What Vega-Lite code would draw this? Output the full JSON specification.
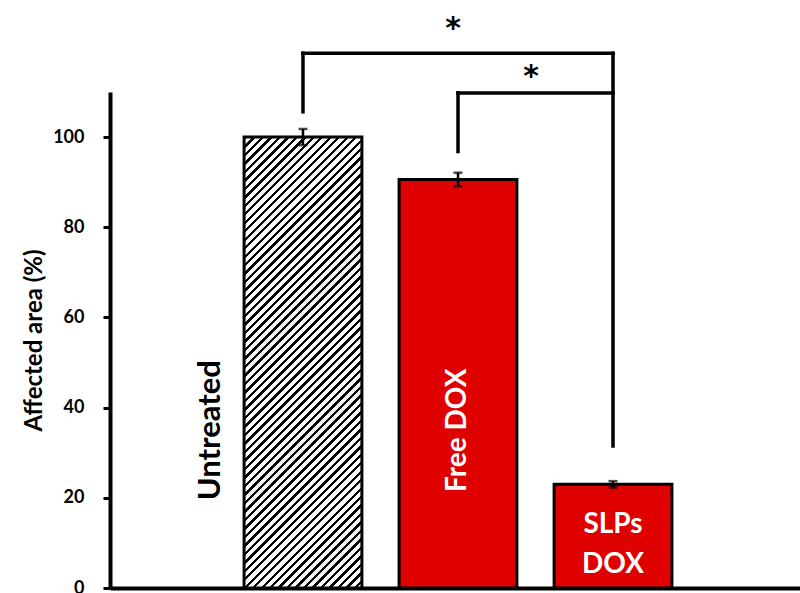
{
  "$schema": "https://vega.github.io/schema/vega-lite/v6.json",
  "width": 696,
  "height": 496,
  "autosize": "none",
  "padding": {"left": 110, "top": 92, "right": 0, "bottom": 5},
  "background": "white",
  "config": {"view": {"stroke": null}, "font": "Lato"},
  "datasets": {
    "bars": [
      {"group": "Untreated", "mean": 100, "lo": 98.2, "hi": 101.8},
      {"group": "Free DOX", "mean": 90.6, "lo": 89.1, "hi": 92.1},
      {"group": "SLPs DOX", "mean": 23, "lo": 22.3, "hi": 23.7}
    ],
    "legs": [
      {"group": "Untreated", "y": 105.6, "y2": 118.6},
      {"group": "Free DOX", "y": 96.8, "y2": 109.8},
      {"group": "SLPs DOX", "y": 31.5, "y2": 118.6}
    ],
    "spans": [
      {"from": "Untreated", "to": "SLPs DOX", "y": 118.6},
      {"from": "Free DOX", "to": "SLPs DOX", "y": 109.8}
    ],
    "one": [{}]
  },
  "encoding": {
    "x": {
      "field": "group",
      "type": "nominal",
      "scale": {"domain": ["Untreated", "Free DOX", "SLPs DOX"], "paddingInner": 0.24, "paddingOuter": 0.865},
      "axis": {"title": null, "labels": false, "ticks": false, "domainWidth": 4, "domainColor": "black"}
    }
  },
  "layer": [
    {
      "data": {"name": "bars"},
      "transform": [{"filter": "datum.group === 'Untreated'"}],
      "mark": {
        "type": "bar",
        "stroke": "black",
        "strokeWidth": 3,
        "fill": {
          "gradient": "linear", "x1": 0, "y1": 0, "x2": 0.3085, "y2": 1.1807,
          "stops": [
            {"offset":0,"color":"#000"},{"offset":0.006,"color":"#000"},{"offset":0.006,"color":"#fff"},{"offset":0.0149,"color":"#fff"},
            {"offset":0.0149,"color":"#000"},{"offset":0.0209,"color":"#000"},{"offset":0.0209,"color":"#fff"},{"offset":0.0299,"color":"#fff"},
            {"offset":0.0299,"color":"#000"},{"offset":0.0359,"color":"#000"},{"offset":0.0359,"color":"#fff"},{"offset":0.0448,"color":"#fff"},
            {"offset":0.0448,"color":"#000"},{"offset":0.0508,"color":"#000"},{"offset":0.0508,"color":"#fff"},{"offset":0.0597,"color":"#fff"},
            {"offset":0.0597,"color":"#000"},{"offset":0.0657,"color":"#000"},{"offset":0.0657,"color":"#fff"},{"offset":0.0746,"color":"#fff"},
            {"offset":0.0746,"color":"#000"},{"offset":0.0806,"color":"#000"},{"offset":0.0806,"color":"#fff"},{"offset":0.0896,"color":"#fff"},
            {"offset":0.0896,"color":"#000"},{"offset":0.0956,"color":"#000"},{"offset":0.0956,"color":"#fff"},{"offset":0.1045,"color":"#fff"},
            {"offset":0.1045,"color":"#000"},{"offset":0.1105,"color":"#000"},{"offset":0.1105,"color":"#fff"},{"offset":0.1194,"color":"#fff"},
            {"offset":0.1194,"color":"#000"},{"offset":0.1254,"color":"#000"},{"offset":0.1254,"color":"#fff"},{"offset":0.1343,"color":"#fff"},
            {"offset":0.1343,"color":"#000"},{"offset":0.1403,"color":"#000"},{"offset":0.1403,"color":"#fff"},{"offset":0.1493,"color":"#fff"},
            {"offset":0.1493,"color":"#000"},{"offset":0.1553,"color":"#000"},{"offset":0.1553,"color":"#fff"},{"offset":0.1642,"color":"#fff"},
            {"offset":0.1642,"color":"#000"},{"offset":0.1702,"color":"#000"},{"offset":0.1702,"color":"#fff"},{"offset":0.1791,"color":"#fff"},
            {"offset":0.1791,"color":"#000"},{"offset":0.1851,"color":"#000"},{"offset":0.1851,"color":"#fff"},{"offset":0.1940,"color":"#fff"},
            {"offset":0.1940,"color":"#000"},{"offset":0.2000,"color":"#000"},{"offset":0.2000,"color":"#fff"},{"offset":0.2090,"color":"#fff"},
            {"offset":0.2090,"color":"#000"},{"offset":0.2150,"color":"#000"},{"offset":0.2150,"color":"#fff"},{"offset":0.2239,"color":"#fff"},
            {"offset":0.2239,"color":"#000"},{"offset":0.2299,"color":"#000"},{"offset":0.2299,"color":"#fff"},{"offset":0.2388,"color":"#fff"},
            {"offset":0.2388,"color":"#000"},{"offset":0.2448,"color":"#000"},{"offset":0.2448,"color":"#fff"},{"offset":0.2537,"color":"#fff"},
            {"offset":0.2537,"color":"#000"},{"offset":0.2597,"color":"#000"},{"offset":0.2597,"color":"#fff"},{"offset":0.2687,"color":"#fff"},
            {"offset":0.2687,"color":"#000"},{"offset":0.2747,"color":"#000"},{"offset":0.2747,"color":"#fff"},{"offset":0.2836,"color":"#fff"},
            {"offset":0.2836,"color":"#000"},{"offset":0.2896,"color":"#000"},{"offset":0.2896,"color":"#fff"},{"offset":0.2985,"color":"#fff"},
            {"offset":0.2985,"color":"#000"},{"offset":0.3045,"color":"#000"},{"offset":0.3045,"color":"#fff"},{"offset":0.3134,"color":"#fff"},
            {"offset":0.3134,"color":"#000"},{"offset":0.3194,"color":"#000"},{"offset":0.3194,"color":"#fff"},{"offset":0.3284,"color":"#fff"},
            {"offset":0.3284,"color":"#000"},{"offset":0.3344,"color":"#000"},{"offset":0.3344,"color":"#fff"},{"offset":0.3433,"color":"#fff"},
            {"offset":0.3433,"color":"#000"},{"offset":0.3493,"color":"#000"},{"offset":0.3493,"color":"#fff"},{"offset":0.3582,"color":"#fff"},
            {"offset":0.3582,"color":"#000"},{"offset":0.3642,"color":"#000"},{"offset":0.3642,"color":"#fff"},{"offset":0.3731,"color":"#fff"},
            {"offset":0.3731,"color":"#000"},{"offset":0.3791,"color":"#000"},{"offset":0.3791,"color":"#fff"},{"offset":0.3881,"color":"#fff"},
            {"offset":0.3881,"color":"#000"},{"offset":0.3941,"color":"#000"},{"offset":0.3941,"color":"#fff"},{"offset":0.4030,"color":"#fff"},
            {"offset":0.4030,"color":"#000"},{"offset":0.4090,"color":"#000"},{"offset":0.4090,"color":"#fff"},{"offset":0.4179,"color":"#fff"},
            {"offset":0.4179,"color":"#000"},{"offset":0.4239,"color":"#000"},{"offset":0.4239,"color":"#fff"},{"offset":0.4328,"color":"#fff"},
            {"offset":0.4328,"color":"#000"},{"offset":0.4388,"color":"#000"},{"offset":0.4388,"color":"#fff"},{"offset":0.4478,"color":"#fff"},
            {"offset":0.4478,"color":"#000"},{"offset":0.4538,"color":"#000"},{"offset":0.4538,"color":"#fff"},{"offset":0.4627,"color":"#fff"},
            {"offset":0.4627,"color":"#000"},{"offset":0.4687,"color":"#000"},{"offset":0.4687,"color":"#fff"},{"offset":0.4776,"color":"#fff"},
            {"offset":0.4776,"color":"#000"},{"offset":0.4836,"color":"#000"},{"offset":0.4836,"color":"#fff"},{"offset":0.4925,"color":"#fff"},
            {"offset":0.4925,"color":"#000"},{"offset":0.4985,"color":"#000"},{"offset":0.4985,"color":"#fff"},{"offset":0.5075,"color":"#fff"},
            {"offset":0.5075,"color":"#000"},{"offset":0.5135,"color":"#000"},{"offset":0.5135,"color":"#fff"},{"offset":0.5224,"color":"#fff"},
            {"offset":0.5224,"color":"#000"},{"offset":0.5284,"color":"#000"},{"offset":0.5284,"color":"#fff"},{"offset":0.5373,"color":"#fff"},
            {"offset":0.5373,"color":"#000"},{"offset":0.5433,"color":"#000"},{"offset":0.5433,"color":"#fff"},{"offset":0.5522,"color":"#fff"},
            {"offset":0.5522,"color":"#000"},{"offset":0.5582,"color":"#000"},{"offset":0.5582,"color":"#fff"},{"offset":0.5672,"color":"#fff"},
            {"offset":0.5672,"color":"#000"},{"offset":0.5732,"color":"#000"},{"offset":0.5732,"color":"#fff"},{"offset":0.5821,"color":"#fff"},
            {"offset":0.5821,"color":"#000"},{"offset":0.5881,"color":"#000"},{"offset":0.5881,"color":"#fff"},{"offset":0.5970,"color":"#fff"},
            {"offset":0.5970,"color":"#000"},{"offset":0.6030,"color":"#000"},{"offset":0.6030,"color":"#fff"},{"offset":0.6119,"color":"#fff"},
            {"offset":0.6119,"color":"#000"},{"offset":0.6179,"color":"#000"},{"offset":0.6179,"color":"#fff"},{"offset":0.6269,"color":"#fff"},
            {"offset":0.6269,"color":"#000"},{"offset":0.6329,"color":"#000"},{"offset":0.6329,"color":"#fff"},{"offset":0.6418,"color":"#fff"},
            {"offset":0.6418,"color":"#000"},{"offset":0.6478,"color":"#000"},{"offset":0.6478,"color":"#fff"},{"offset":0.6567,"color":"#fff"},
            {"offset":0.6567,"color":"#000"},{"offset":0.6627,"color":"#000"},{"offset":0.6627,"color":"#fff"},{"offset":0.6716,"color":"#fff"},
            {"offset":0.6716,"color":"#000"},{"offset":0.6776,"color":"#000"},{"offset":0.6776,"color":"#fff"},{"offset":0.6866,"color":"#fff"},
            {"offset":0.6866,"color":"#000"},{"offset":0.6926,"color":"#000"},{"offset":0.6926,"color":"#fff"},{"offset":0.7015,"color":"#fff"},
            {"offset":0.7015,"color":"#000"},{"offset":0.7075,"color":"#000"},{"offset":0.7075,"color":"#fff"},{"offset":0.7164,"color":"#fff"},
            {"offset":0.7164,"color":"#000"},{"offset":0.7224,"color":"#000"},{"offset":0.7224,"color":"#fff"},{"offset":0.7313,"color":"#fff"},
            {"offset":0.7313,"color":"#000"},{"offset":0.7373,"color":"#000"},{"offset":0.7373,"color":"#fff"},{"offset":0.7463,"color":"#fff"},
            {"offset":0.7463,"color":"#000"},{"offset":0.7523,"color":"#000"},{"offset":0.7523,"color":"#fff"},{"offset":0.7612,"color":"#fff"},
            {"offset":0.7612,"color":"#000"},{"offset":0.7672,"color":"#000"},{"offset":0.7672,"color":"#fff"},{"offset":0.7761,"color":"#fff"},
            {"offset":0.7761,"color":"#000"},{"offset":0.7821,"color":"#000"},{"offset":0.7821,"color":"#fff"},{"offset":0.7910,"color":"#fff"},
            {"offset":0.7910,"color":"#000"},{"offset":0.7970,"color":"#000"},{"offset":0.7970,"color":"#fff"},{"offset":0.8060,"color":"#fff"},
            {"offset":0.8060,"color":"#000"},{"offset":0.8120,"color":"#000"},{"offset":0.8120,"color":"#fff"},{"offset":0.8209,"color":"#fff"},
            {"offset":0.8209,"color":"#000"},{"offset":0.8269,"color":"#000"},{"offset":0.8269,"color":"#fff"},{"offset":0.8358,"color":"#fff"},
            {"offset":0.8358,"color":"#000"},{"offset":0.8418,"color":"#000"},{"offset":0.8418,"color":"#fff"},{"offset":0.8507,"color":"#fff"},
            {"offset":0.8507,"color":"#000"},{"offset":0.8567,"color":"#000"},{"offset":0.8567,"color":"#fff"},{"offset":0.8657,"color":"#fff"},
            {"offset":0.8657,"color":"#000"},{"offset":0.8717,"color":"#000"},{"offset":0.8717,"color":"#fff"},{"offset":0.8806,"color":"#fff"},
            {"offset":0.8806,"color":"#000"},{"offset":0.8866,"color":"#000"},{"offset":0.8866,"color":"#fff"},{"offset":0.8955,"color":"#fff"},
            {"offset":0.8955,"color":"#000"},{"offset":0.9015,"color":"#000"},{"offset":0.9015,"color":"#fff"},{"offset":0.9104,"color":"#fff"},
            {"offset":0.9104,"color":"#000"},{"offset":0.9164,"color":"#000"},{"offset":0.9164,"color":"#fff"},{"offset":0.9254,"color":"#fff"},
            {"offset":0.9254,"color":"#000"},{"offset":0.9314,"color":"#000"},{"offset":0.9314,"color":"#fff"},{"offset":0.9403,"color":"#fff"},
            {"offset":0.9403,"color":"#000"},{"offset":0.9463,"color":"#000"},{"offset":0.9463,"color":"#fff"},{"offset":0.9552,"color":"#fff"},
            {"offset":0.9552,"color":"#000"},{"offset":0.9612,"color":"#000"},{"offset":0.9612,"color":"#fff"},{"offset":0.9701,"color":"#fff"},
            {"offset":0.9701,"color":"#000"},{"offset":0.9761,"color":"#000"},{"offset":0.9761,"color":"#fff"},{"offset":0.9851,"color":"#fff"},
            {"offset":0.9851,"color":"#000"},{"offset":0.9911,"color":"#000"},{"offset":0.9911,"color":"#fff"},{"offset":1,"color":"#fff"}
          ]
        }
      },
      "encoding": {
        "y": {
          "field": "mean",
          "type": "quantitative",
          "scale": {"domain": [0, 110], "nice": false, "zero": true},
          "axis": {
            "title": "Affected area (%)",
            "values": [0, 20, 40, 60, 80, 100],
            "grid": false,
            "domainWidth": 4,
            "domainColor": "black",
            "tickColor": "black",
            "tickWidth": 3,
            "tickSize": 7,
            "labelFont": "Lato",
            "labelFontSize": 18,
            "labelFontWeight": "bold",
            "labelColor": "black",
            "labelPadding": 19,
            "titleFont": "Lato",
            "titleFontSize": 24,
            "titleFontWeight": "bold",
            "titleColor": "black",
            "titlePadding": 6
          }
        }
      }
    },
    {
      "data": {"name": "bars"},
      "transform": [{"filter": "datum.group !== 'Untreated'"}],
      "mark": {"type": "bar", "fill": "#DF0000", "stroke": "black", "strokeWidth": 3},
      "encoding": {"y": {"field": "mean", "type": "quantitative"}}
    },
    {
      "data": {"name": "bars"},
      "mark": {"type": "rule", "color": "black", "strokeWidth": 2.5},
      "encoding": {"y": {"field": "lo", "type": "quantitative"}, "y2": {"field": "hi"}}
    },
    {
      "data": {"name": "bars"},
      "mark": {"type": "tick", "color": "black", "size": 9, "thickness": 2.5},
      "encoding": {"y": {"field": "lo", "type": "quantitative"}}
    },
    {
      "data": {"name": "bars"},
      "mark": {"type": "tick", "color": "black", "size": 9, "thickness": 2.5},
      "encoding": {"y": {"field": "hi", "type": "quantitative"}}
    },
    {
      "data": {"name": "legs"},
      "mark": {"type": "rule", "color": "black", "strokeWidth": 3.5, "strokeCap": "square"},
      "encoding": {"y": {"field": "y", "type": "quantitative"}, "y2": {"field": "y2"}}
    },
    {
      "data": {"name": "spans"},
      "mark": {"type": "rule", "color": "black", "strokeWidth": 3.5, "strokeCap": "square"},
      "encoding": {
        "x": {"field": "from", "type": "nominal"},
        "x2": {"field": "to"},
        "y": {"field": "y", "type": "quantitative"}
      }
    },
    {
      "data": {"name": "one"},
      "mark": {"type": "text", "text": "Untreated", "angle": 270, "font": "Lato", "fontSize": 31, "fontWeight": "bold", "color": "black", "align": "center", "baseline": "middle", "dy": -92},
      "encoding": {"x": {"datum": "Untreated"}, "y": {"datum": 35}}
    },
    {
      "data": {"name": "one"},
      "mark": {"type": "text", "text": "Free DOX", "angle": 270, "font": "Lato", "fontSize": 28, "fontWeight": "bold", "color": "white", "align": "center", "baseline": "middle"},
      "encoding": {"x": {"datum": "Free DOX"}, "y": {"datum": 35}}
    },
    {
      "data": {"name": "one"},
      "mark": {"type": "text", "text": ["SLPs", "DOX"], "lineHeight": 40, "font": "Lato", "fontSize": 28, "fontWeight": "bold", "color": "white", "align": "center", "baseline": "middle"},
      "encoding": {"x": {"datum": "SLPs DOX"}, "y": {"datum": 14}}
    },
    {
      "data": {"name": "one"},
      "mark": {"type": "text", "text": "*", "font": "DejaVu Sans", "fontSize": 30, "fontWeight": "bold", "color": "black", "align": "center", "baseline": "alphabetic", "dx": -5},
      "encoding": {"x": {"datum": "Free DOX"}, "y": {"datum": 122}}
    },
    {
      "data": {"name": "one"},
      "mark": {"type": "text", "text": "*", "font": "DejaVu Sans", "fontSize": 30, "fontWeight": "bold", "color": "black", "align": "center", "baseline": "alphabetic", "dx": 73},
      "encoding": {"x": {"datum": "Free DOX"}, "y": {"datum": 111.3}}
    }
  ]
}
